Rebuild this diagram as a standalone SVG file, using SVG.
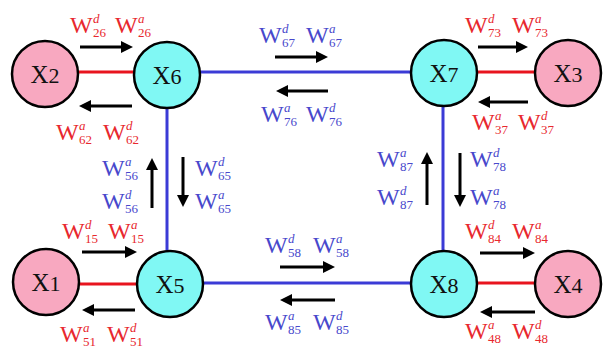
<svg xmlns="http://www.w3.org/2000/svg" width="603" height="349" viewBox="0 0 603 349">
<defs>
<marker id="ah" markerWidth="4" markerHeight="4" refX="1" refY="2" orient="auto" markerUnits="strokeWidth"><path d="M0,0 L4,2 L0,4 Z" fill="#000"/></marker>
<style>
.bl{stroke:#3b3bd6;stroke-width:3;fill:none}
.rl{stroke:#e8141e;stroke-width:3;fill:none}
.ar{stroke:#000;stroke-width:3;fill:none;marker-end:url(#ah)}
.pk{fill:#f8a8c0;stroke:#000;stroke-width:2.5}
.cy{fill:#80f8f4;stroke:#000;stroke-width:2.5}
.nt{font-family:"Liberation Serif",serif;font-size:25px;fill:#111;text-anchor:middle}
.nt tspan.n{font-size:22px}
.w{font-family:"Liberation Serif",serif;font-size:24px}
.r{fill:#e8282e}
.b{fill:#4848cc}
.s{font-size:13px}
.i{font-size:13px;font-style:italic}
</style>
</defs>
<rect width="603" height="349" fill="#fff"/>
<g id="connectors">
<line class="bl" x1="167" y1="72" x2="444" y2="72"/>
<line class="bl" x1="167" y1="72" x2="167" y2="284"/>
<line class="bl" x1="443" y1="72" x2="443" y2="284"/>
<line class="bl" x1="170" y1="283" x2="444" y2="283"/>
<line class="rl" x1="45" y1="72" x2="167" y2="72"/>
<line class="rl" x1="444" y1="72" x2="568" y2="72"/>
<line class="rl" x1="46" y1="284" x2="170" y2="284"/>
<line class="rl" x1="444" y1="283" x2="568" y2="283"/>
<line class="ar" x1="80" y1="47" x2="124" y2="47"/>
<line class="ar" x1="132" y1="106" x2="88" y2="106"/>
<line class="ar" x1="275" y1="57" x2="319" y2="57"/>
<line class="ar" x1="328" y1="91" x2="285" y2="91"/>
<line class="ar" x1="478" y1="47" x2="519" y2="47"/>
<line class="ar" x1="528" y1="102" x2="487" y2="102"/>
<line class="ar" x1="152" y1="208" x2="152" y2="167"/>
<line class="ar" x1="183" y1="157" x2="183" y2="198"/>
<line class="ar" x1="427" y1="205" x2="427" y2="161"/>
<line class="ar" x1="460" y1="153" x2="460" y2="198"/>
<line class="ar" x1="82" y1="252" x2="128" y2="252"/>
<line class="ar" x1="135" y1="310" x2="91" y2="310"/>
<line class="ar" x1="280" y1="267" x2="326" y2="267"/>
<line class="ar" x1="335" y1="300" x2="289" y2="300"/>
<line class="ar" x1="480" y1="253" x2="526" y2="253"/>
<line class="ar" x1="535" y1="312" x2="489" y2="312"/>
</g>
<g id="X2"><circle class="pk" cx="45" cy="74" r="33"/><text class="nt" x="45" y="83">X<tspan class="n">2</tspan></text></g>
<g id="X6"><circle class="cy" cx="167" cy="75" r="33"/><text class="nt" x="167" y="84">X<tspan class="n">6</tspan></text></g>
<g id="X7"><circle class="cy" cx="444" cy="73" r="33"/><text class="nt" x="444" y="82">X<tspan class="n">7</tspan></text></g>
<g id="X3"><circle class="pk" cx="568" cy="73" r="33"/><text class="nt" x="568" y="82">X<tspan class="n">3</tspan></text></g>
<g id="X1"><circle class="pk" cx="46" cy="282" r="33"/><text class="nt" x="46" y="291">X<tspan class="n">1</tspan></text></g>
<g id="X5"><circle class="cy" cx="170" cy="284" r="33"/><text class="nt" x="170" y="293">X<tspan class="n">5</tspan></text></g>
<g id="X8"><circle class="cy" cx="444" cy="284" r="33"/><text class="nt" x="444" y="293">X<tspan class="n">8</tspan></text></g>
<g id="X4"><circle class="pk" cx="568" cy="284" r="33"/><text class="nt" x="568" y="293">X<tspan class="n">4</tspan></text></g>
<g id="labels">
<text class="w r" x="70" y="33">W<tspan class="i" x="93" y="23">d</tspan><tspan class="s" x="93" y="37">26</tspan><tspan x="115" y="33">W</tspan><tspan class="i" x="138" y="23">a</tspan><tspan class="s" x="138" y="37">26</tspan></text>
<text class="w r" x="56" y="140">W<tspan class="i" x="79" y="130">a</tspan><tspan class="s" x="79" y="144">62</tspan><tspan x="103" y="140">W</tspan><tspan class="i" x="126" y="130">d</tspan><tspan class="s" x="126" y="144">62</tspan></text>
<text class="w b" x="259" y="43">W<tspan class="i" x="282" y="33">d</tspan><tspan class="s" x="282" y="47">67</tspan><tspan x="306" y="43">W</tspan><tspan class="i" x="329" y="33">a</tspan><tspan class="s" x="329" y="47">67</tspan></text>
<text class="w b" x="261" y="122">W<tspan class="i" x="284" y="112">a</tspan><tspan class="s" x="284" y="126">76</tspan><tspan x="306" y="122">W</tspan><tspan class="i" x="329" y="112">d</tspan><tspan class="s" x="329" y="126">76</tspan></text>
<text class="w r" x="465" y="33">W<tspan class="i" x="488" y="23">d</tspan><tspan class="s" x="488" y="37">73</tspan><tspan x="512" y="33">W</tspan><tspan class="i" x="535" y="23">a</tspan><tspan class="s" x="535" y="37">73</tspan></text>
<text class="w r" x="472" y="130">W<tspan class="i" x="495" y="120">a</tspan><tspan class="s" x="495" y="134">37</tspan><tspan x="518" y="130">W</tspan><tspan class="i" x="541" y="120">d</tspan><tspan class="s" x="541" y="134">37</tspan></text>
<text class="w b" x="102" y="176">W<tspan class="i" x="125" y="166">a</tspan><tspan class="s" x="125" y="180">56</tspan></text>
<text class="w b" x="102" y="209">W<tspan class="i" x="125" y="199">d</tspan><tspan class="s" x="125" y="213">56</tspan></text>
<text class="w b" x="195" y="176">W<tspan class="i" x="218" y="166">d</tspan><tspan class="s" x="218" y="180">65</tspan></text>
<text class="w b" x="195" y="209">W<tspan class="i" x="218" y="199">a</tspan><tspan class="s" x="218" y="213">65</tspan></text>
<text class="w b" x="377" y="167">W<tspan class="i" x="400" y="157">a</tspan><tspan class="s" x="400" y="171">87</tspan></text>
<text class="w b" x="377" y="205">W<tspan class="i" x="400" y="195">d</tspan><tspan class="s" x="400" y="209">87</tspan></text>
<text class="w b" x="470" y="167">W<tspan class="i" x="493" y="157">d</tspan><tspan class="s" x="493" y="171">78</tspan></text>
<text class="w b" x="470" y="205">W<tspan class="i" x="493" y="195">a</tspan><tspan class="s" x="493" y="209">78</tspan></text>
<text class="w r" x="62" y="239">W<tspan class="i" x="85" y="229">d</tspan><tspan class="s" x="85" y="243">15</tspan><tspan x="108" y="239">W</tspan><tspan class="i" x="131" y="229">a</tspan><tspan class="s" x="131" y="243">15</tspan></text>
<text class="w r" x="60" y="342">W<tspan class="i" x="83" y="332">a</tspan><tspan class="s" x="83" y="346">51</tspan><tspan x="107" y="342">W</tspan><tspan class="i" x="130" y="332">d</tspan><tspan class="s" x="130" y="346">51</tspan></text>
<text class="w b" x="265" y="253">W<tspan class="i" x="288" y="243">d</tspan><tspan class="s" x="288" y="257">58</tspan><tspan x="313" y="253">W</tspan><tspan class="i" x="336" y="243">a</tspan><tspan class="s" x="336" y="257">58</tspan></text>
<text class="w b" x="265" y="330">W<tspan class="i" x="288" y="320">a</tspan><tspan class="s" x="288" y="334">85</tspan><tspan x="313" y="330">W</tspan><tspan class="i" x="336" y="320">d</tspan><tspan class="s" x="336" y="334">85</tspan></text>
<text class="w r" x="465" y="239">W<tspan class="i" x="488" y="229">d</tspan><tspan class="s" x="488" y="243">84</tspan><tspan x="512" y="239">W</tspan><tspan class="i" x="535" y="229">a</tspan><tspan class="s" x="535" y="243">84</tspan></text>
<text class="w r" x="465" y="339">W<tspan class="i" x="488" y="329">a</tspan><tspan class="s" x="488" y="343">48</tspan><tspan x="512" y="339">W</tspan><tspan class="i" x="535" y="329">d</tspan><tspan class="s" x="535" y="343">48</tspan></text>
</g>
</svg>
